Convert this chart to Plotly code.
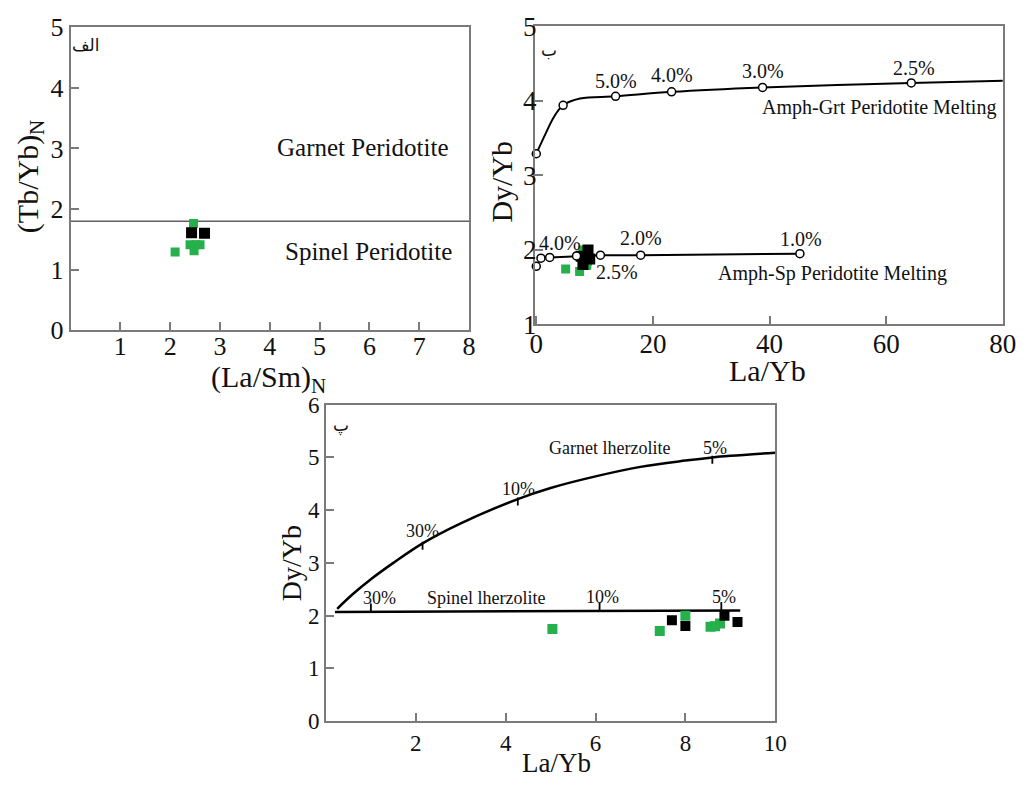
import plotly.graph_objects as go

# ---------------- Panel A data: (La/Sm)N vs (Tb/Yb)N ----------------
a_green_x = [2.10, 2.47, 2.40, 2.52, 2.60, 2.48]
a_green_y = [1.29, 1.76, 1.41, 1.41, 1.41, 1.31]
a_black_x = [2.43, 2.69]
a_black_y = [1.61, 1.60]
a_boundary_x = [0, 8]
a_boundary_y = [1.8, 1.8]

# ---------------- Samples La/Yb vs Dy/Yb (panels B and C) ----------------
s_green_x = [5.04, 7.43, 8.00, 8.56, 8.66, 8.77]
s_green_y = [1.745, 1.71, 2.00, 1.79, 1.80, 1.85]
s_black_x = [7.70, 8.00, 8.87, 9.16]
s_black_y = [1.915, 1.805, 2.00, 1.88]

# ---------------- Panel B melting curves ----------------
grt_curve_x = [0, 1.6, 3.0, 4.6, 7.5, 13.6, 23.2, 38.8, 64.3, 80]
grt_curve_y = [3.29, 3.56, 3.78, 3.94, 4.03, 4.06, 4.12, 4.18, 4.24, 4.27]
grt_node_x = [0, 4.6, 13.6, 23.2, 38.8, 64.3]
grt_node_y = [3.29, 3.94, 4.06, 4.12, 4.18, 4.24]
grt_lab_x = [13.6, 23.3, 38.8, 64.7]
grt_lab_y = [4.27, 4.34, 4.40, 4.44]
grt_lab_t = ["5.0%", "4.0%", "3.0%", "2.5%"]

sp_node_x = [0, 0.8, 2.3, 6.9, 11.0, 17.9, 45.2]
sp_node_y = [1.78, 1.89, 1.90, 1.92, 1.93, 1.93, 1.95]
sp_lab_x = [4.0, 17.9, 45.4, 13.9]
sp_lab_y = [2.09, 2.16, 2.15, 1.71]
sp_lab_t = ["4.0%", "2.0%", "1.0%", "2.5%"]

# ---------------- Panel C curves ----------------
glz_x = [0.25, 0.6, 1.0, 1.5, 2.15, 3.0, 4.27, 5.0, 6.0, 7.0, 8.0, 8.6, 9.0, 10.0]
glz_y = [2.13, 2.41, 2.69, 3.0, 3.37, 3.75, 4.21, 4.42, 4.64, 4.82, 4.94, 5.0, 5.03, 5.09]
glz_tick_x = [2.15, 4.27, 8.6]
glz_tick_y = [3.37, 4.21, 5.0]
glz_lab_t = ["30%", "10%", "5%"]
glz_lab_x = [2.15, 4.29, 8.67]
glz_lab_y = [3.60, 4.41, 5.18]

slz_x = [0.2, 9.22]
slz_y = [2.07, 2.10]
slz_tick_x = [1.0, 6.09, 8.8]
slz_lab_t = ["30%", "10%", "5%"]
slz_lab_x = [1.2, 6.15, 8.85]
slz_lab_y = [2.34, 2.35, 2.35]

GREEN = "#25b04b"
SERIF = "Liberation Serif"
FRAME = "#7a7a7a"

fig = go.Figure()

# ---- Panel A ----
fig.add_trace(go.Scatter(x=a_boundary_x, y=a_boundary_y, mode="lines",
                         line=dict(color="#606060", width=1.5), xaxis="x", yaxis="y"))
fig.add_trace(go.Scatter(x=a_green_x, y=a_green_y, mode="markers",
                         marker=dict(symbol="square", size=9, color=GREEN), xaxis="x", yaxis="y"))
fig.add_trace(go.Scatter(x=a_black_x, y=a_black_y, mode="markers",
                         marker=dict(symbol="square", size=11, color="black"), xaxis="x", yaxis="y"))

# ---- Panel B ----
fig.add_trace(go.Scatter(x=grt_curve_x, y=grt_curve_y, mode="lines", line_shape="spline",
                         line=dict(color="black", width=2), xaxis="x2", yaxis="y2"))
fig.add_trace(go.Scatter(x=sp_node_x, y=sp_node_y, mode="lines",
                         line=dict(color="black", width=2), xaxis="x2", yaxis="y2"))
fig.add_trace(go.Scatter(x=s_green_x, y=s_green_y, mode="markers",
                         marker=dict(symbol="square", size=9, color=GREEN), xaxis="x2", yaxis="y2"))
fig.add_trace(go.Scatter(x=s_black_x, y=s_black_y, mode="markers",
                         marker=dict(symbol="square", size=11, color="black"), xaxis="x2", yaxis="y2"))
fig.add_trace(go.Scatter(x=grt_node_x + sp_node_x, y=grt_node_y + sp_node_y, mode="markers",
                         marker=dict(symbol="circle", size=8, color="white",
                                     line=dict(color="black", width=1.5)),
                         xaxis="x2", yaxis="y2", cliponaxis=False))

# ---- Panel C ----
fig.add_trace(go.Scatter(x=glz_x, y=glz_y, mode="lines", line_shape="spline",
                         line=dict(color="black", width=2.5), xaxis="x3", yaxis="y3"))
fig.add_trace(go.Scatter(x=slz_x, y=slz_y, mode="lines",
                         line=dict(color="black", width=2.5), xaxis="x3", yaxis="y3"))


def interp(x, xs, ys):
    for i in range(len(xs) - 1):
        if xs[i] <= x <= xs[i + 1]:
            t = (x - xs[i]) / (xs[i + 1] - xs[i])
            return ys[i] + t * (ys[i + 1] - ys[i])
    return ys[-1]


tx, ty = [], []
for x, y in zip(glz_tick_x, glz_tick_y):
    tx += [x, x, None]
    ty += [y - 0.12, y + 0.03, None]
for x in slz_tick_x:
    y = interp(x, slz_x, slz_y)
    tx += [x, x, None]
    ty += [y, y + 0.16, None]
fig.add_trace(go.Scatter(x=tx, y=ty, mode="lines", line=dict(color="black", width=1.8),
                         xaxis="x3", yaxis="y3"))
fig.add_trace(go.Scatter(x=s_green_x, y=s_green_y, mode="markers",
                         marker=dict(symbol="square", size=10, color=GREEN), xaxis="x3", yaxis="y3"))
fig.add_trace(go.Scatter(x=s_black_x, y=s_black_y, mode="markers",
                         marker=dict(symbol="square", size=10, color="black"), xaxis="x3", yaxis="y3"))

W, H = 1025, 791


def dom_x(l, r):
    return [l / W, r / W]


def dom_y(t, b):
    return [(H - b) / H, (H - t) / H]


def ax(domain, rng, tickvals, size, anchor, ticklen=9, standoff=0):
    return dict(domain=domain, range=rng, tickvals=tickvals,
                ticktext=[str(v) for v in tickvals],
                ticks="inside", ticklen=ticklen, ticklabelstandoff=standoff,
                tickwidth=1.5, tickcolor=FRAME, showline=True, linecolor=FRAME, linewidth=1.5,
                mirror=True, showgrid=False, zeroline=False, anchor=anchor,
                tickfont=dict(family=SERIF, size=size, color="#111"))


annotations = []


def txt(x, y, text, xref, yref, size, family=SERIF, **kw):
    d = dict(x=x, y=y, text=text, xref=xref, yref=yref, showarrow=False,
             xanchor="center", yanchor="middle",
             font=dict(family=family, size=size, color="#111"))
    d.update(kw)
    annotations.append(d)


# Panel A texts
txt(5.87, 3.02, "Garnet Peridotite", "x", "y", 25)
txt(5.98, 1.30, "Spinel Peridotite", "x", "y", 25)
txt(0.32, 4.70, "الف", "x", "y", 17, family="DejaVu Sans")
txt(25 / W, 1 - 168 / H, "(Tb/Yb)<sub>N</sub>", "paper", "paper", 30, textangle=-90)
txt(268 / W, 1 - 378 / H, "(La/Sm)<sub>N</sub>", "paper", "paper", 30)

# Panel B texts
for x, y, t in zip(grt_lab_x, grt_lab_y, grt_lab_t):
    txt(x, y, t, "x2", "y2", 20)
for x, y, t in zip(sp_lab_x, sp_lab_y, sp_lab_t):
    txt(x, y, t, "x2", "y2", 20)
txt(58.7, 3.91, "Amph-Grt Peridotite Melting", "x2", "y2", 20)
txt(50.8, 1.69, "Amph-Sp Peridotite Melting", "x2", "y2", 20)
txt(2.2, 4.68, "ب", "x2", "y2", 17, family="DejaVu Sans")
txt(505 / W, 1 - 173 / H, "Dy/Yb", "paper", "paper", 30, textangle=-90)
txt(776 / W, 1 - 369 / H, "La/Yb", "paper", "paper", 30)

# Panel C texts
for x, y, t in zip(glz_lab_x, glz_lab_y, glz_lab_t):
    txt(x, y, t, "x3", "y3", 18)
for x, y, t in zip(slz_lab_x, slz_lab_y, slz_lab_t):
    txt(x, y, t, "x3", "y3", 18)
txt(6.3, 5.18, "Garnet lherzolite", "x3", "y3", 18)
txt(3.57, 2.34, "Spinel lherzolite", "x3", "y3", 18)
txt(0.34, 5.6, "پ", "x3", "y3", 17, family="DejaVu Sans")
txt(292 / W, 1 - 570 / H, "Dy/Yb", "paper", "paper", 28, textangle=-90)
txt(561 / W, 1 - 777 / H, "La/Yb", "paper", "paper", 27)

fig.update_layout(
    width=W, height=H, margin=dict(l=0, r=0, t=0, b=0),
    font=dict(family=SERIF, size=20, color="#111"),
    paper_bgcolor="white", plot_bgcolor="white", showlegend=False,
    xaxis=ax(dom_x(66.7, 472.3), [0, 8], [1, 2, 3, 4, 5, 6, 7, 8], 26, "y", standoff=-8),
    yaxis=ax(dom_y(12.7, 327.7), [0, 5], [0, 1, 2, 3, 4, 5], 26, "x"),
    xaxis2=ax(dom_x(539, 1015.7), [-0.3, 80], [0, 20, 40, 60, 80], 27, "y2", standoff=-6),
    yaxis2=ax(dom_y(11.7, 321.7), [1, 5], [1, 2, 3, 4, 5], 27, "x2", standoff=-9),
    xaxis3=ax(dom_x(326.7, 784), [0, 10], [2, 4, 6, 8, 10], 23, "y3", 8),
    yaxis3=ax(dom_y(405, 734), [0, 6], [0, 1, 2, 3, 4, 5, 6], 23, "x3", 8),
    annotations=annotations,
)

fig.write_html("out.html")
